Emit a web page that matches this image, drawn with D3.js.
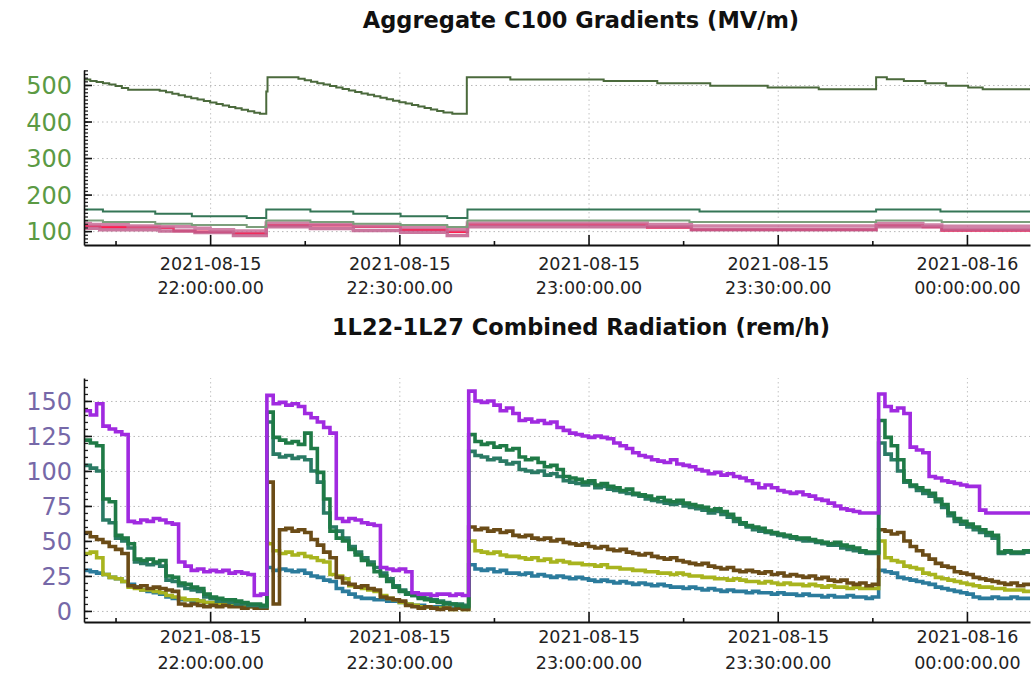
<!DOCTYPE html>
<html>
<head>
<meta charset="utf-8">
<script src="https://cdn.jsdelivr.net/npm/d3@7"></script>
<style>
  body { margin: 0; background: #fff; }
  svg { font-family: "DejaVu Sans", sans-serif; }
</style>
</head>
<body>
<svg id="drawing_region"></svg>
<script>
const startTime = new Date(2021, 7, 15, 21, 40);
const endTime = new Date(2021, 7, 16, 0, 10);

// ---- top chart: step series, [minutes after 21:40, MV/m]
const gradSum = [[0,515],[1,511],[2,508],[3,505],[4,501],[5,497],[6,492],[7,487],[12,484],[13,480],[14,476],[15,472],[16,468],[17,464],[18,460],[19,456],[20,452],[21,448],[22,444],[23,440],[24,436],[25,432],[26,428],[27,424],[27.9,421],[28.9,482],[29.1,521],[34,517],[35,513],[36,509],[37,505],[38,501],[39,497],[40,493],[41,489],[42,485],[43,481],[44,477],[45,473],[46,469],[47,465],[48,461],[49,457],[50,453],[51,449],[52,445],[53,441],[54,437],[55,433],[56,429],[57,425],[58.4,421],[60.7,521],[67.6,515],[82.4,511],[90.9,505],[99.3,498],[108.4,493],[116.5,488],[125.6,521],[127.3,516],[130,511],[133.4,505],[136.7,498],[140.2,493],[142.5,488],[150.5,488]];
const gradDarkGreen = [[0,159],[3,154],[11.3,147.5],[17.1,141],[25.8,135.6],[28.9,159],[35.9,154],[42.7,147.5],[50.2,141],[57.6,135.6],[60.8,159],[97.6,154],[125.6,159],[135.8,154],[150.5,154]];
const gradSage = [[0,129],[3,124.7],[11.3,120],[17.1,117],[25.8,111],[28.9,129],[35.9,124.7],[42.7,120],[50.2,117],[57.6,111],[60.8,129],[96,124.7],[125.6,129],[136,124.7],[150.5,124.7]];
const gradRed = [[0,114],[2.5,111],[12,109],[14.2,100],[17.6,98],[23.7,94],[28.9,116],[42.7,112],[50.2,104],[57.6,98],[60.8,118],[89.3,110],[96.3,104],[125.6,116],[133,111],[136,102],[150.5,102]];
const gradPinkHi = [[0,121],[1,118],[7,114],[12,112],[17.6,108],[20,104],[23.7,100],[28.9,122],[35.9,118],[42.7,114],[50.2,110],[57.6,104],[60.8,122],[89.3,118],[96.3,114],[125.6,121],[133,117],[136,113],[150.5,113]];
const gradPinkLo = [[0,108],[2.5,104],[12,100],[17.6,96],[23.7,88],[28.9,112],[35.9,107],[42.7,102],[50.2,97],[57.6,88],[60.8,112],[96.3,104],[125.6,112],[136,104],[150.5,104]];

// ---- bottom chart: one reading per minute from 21:40 (rem/h)
const radPurple = [143,140,148,132,130,128,126,64,63,65, 64,66,65,63,62,35,32,29,30,28, 29,28,29,27,28,27,26,11,12,154,
  148,149,147,148,146,141,138,135,131,127, 66,64,66,65,63,62,61,31,30,29, 30,28,13,12,12,11,12,12,11,12,
  11,157,150,149,150,147,143,145,141,136, 137,135,136,134,135,131,129,127,126,125, 124,125,124,123,120,118,116,113,111,110,
  108,107,106,108,105,104,103,101,100,98, 99,97,98,96,95,93,91,88,90,88, 86,85,84,85,83,82,80,79,77,75,
  73,72,71,70,70,70,155,146,143,145, 141,117,115,113,96,95,93,92,91,90, 89,89,72,70,70,70,70,70,70,70, 70];
const radGreen1 = [122,120,118,80,78,54,52,48,37,36, 37,35,36,25,24,20,19,17,16,12, 10,9,8,8,7,6,5,5,4,142,
  124,122,120,121,119,127,116,99,80,57, 52,50,44,40,36,33,28,25,21,17, 14,12,11,9,8,7,6,5,5,4,
  3,126,121,119,120,117,118,115,116,110, 108,109,106,103,104,101,96,95,94,92, 93,90,91,89,88,86,87,84,83,82,
  80,81,79,78,79,77,76,75,74,72, 73,71,69,66,63,61,60,59,57,56, 55,54,53,52,52,51,50,49,48,49,
  47,46,45,43,42,42,136,124,118,108, 93,90,88,86,84,80,76,70,66,64, 62,60,58,56,54,42,43,42,42,43, 42];
const radGreen2 = [104,102,100,65,63,52,50,45,35,34, 33,34,32,22,21,18,16,15,14,10, 9,7,7,6,5,5,4,4,3,135,
  112,110,111,109,110,108,100,92,70,60, 57,52,46,42,38,35,31,27,23,18, 15,13,11,10,9,8,7,6,5,5,
  4,114,111,110,108,109,107,105,106,101, 100,99,100,97,98,96,93,92,91,90, 91,88,89,87,86,85,84,83,82,80,
  79,78,77,76,77,75,74,73,72,70, 71,69,67,64,62,60,58,57,56,55, 54,53,52,51,50,50,49,48,47,47,
  45,44,43,42,41,41,120,112,108,100, 92,89,86,84,82,78,74,68,64,62, 60,58,56,54,52,41,42,41,41,42, 41];
const radBrown = [56,53,51,49,46,44,41,18,17,18, 16,17,16,15,14,5,4,5,4,3, 4,3,4,3,3,2,3,2,2,92,
  5,58,59,57,58,56,51,47,42,38, 24,20,19,17,18,16,15,10,9,8, 7,4,3,2,3,2,1,2,1,2,
  1,60,58,59,57,58,56,57,54,53, 54,52,51,52,50,51,49,48,47,48, 46,45,46,44,43,44,42,41,40,41,
  39,38,37,38,36,35,34,33,34,32, 31,30,31,29,28,29,28,27,28,26, 27,25,26,25,24,25,23,24,22,21,
  22,20,19,20,18,19,58,57,55,56, 50,46,43,40,37,34,32,31,28,27, 26,24,23,22,21,20,19,20,18,19, 19];
const radYellow = [41,42,38,26,24,23,21,17,16,15, 15,14,13,11,10,9,8,8,7,6, 6,5,5,4,4,3,3,3,2,48,
  43,41,42,40,41,39,38,36,35,26, 25,23,18,17,16,15,14,11,9,8, 6,5,4,3,3,2,2,2,1,2,
  1,50,43,42,41,42,40,39,39,38, 37,38,36,37,35,36,35,34,34,33, 33,32,33,31,31,30,30,29,29,28,
  28,27,27,26,27,26,25,25,24,24, 23,23,22,23,22,21,21,20,21,20, 19,20,19,19,18,19,18,17,18,17,
  17,16,17,16,16,16,50,38,36,35, 32,31,30,27,26,24,23,22,21,20, 19,18,17,17,16,16,15,15,15,14, 15];
const radTeal = [29,28,27,26,24,23,21,19,17,15, 14,13,12,10,9,8,8,7,7,6, 6,5,5,5,4,4,4,3,3,31,
  29,30,29,28,29,27,25,24,22,21, 16,14,12,10,9,9,8,8,7,7, 6,5,4,4,3,3,3,2,2,2,
  2,33,30,29,30,28,29,27,27,26, 27,25,26,25,24,25,24,23,24,23, 22,21,22,21,20,21,20,19,20,19,
  18,19,18,17,17,16,17,16,15,16, 15,14,15,14,14,13,14,13,13,12, 13,12,12,11,12,11,11,10,11,10,
  10,11,10,10,9,10,29,28,27,24, 23,22,21,20,19,17,16,15,14,13, 12,10,9,9,10,9,9,10,9,9, 10];

const gradTicks = [100, 200, 300, 400, 500];
const radTicks = [0, 25, 50, 75, 100, 125, 150];

const atMinute = m => new Date(startTime.getTime() + m * 60000);
const fromSteps = arr => arr.map(d => ({ date: atMinute(d[0]), value: d[1] }));
const fromMinutes = arr => arr.map((v, i) => ({ date: atMinute(i), value: v }));

const svg = d3.select('#drawing_region')
    .attr('width', 1036)
    .attr('height', 674);

class StripChart {
    constructor( config, series ) {
        this.config = config;
        this.series = series;
        this.init();
    }

    init() {
        let self = this;
        let c = self.config;

        self.g = svg.append('g');

        self.x = d3.scaleTime()
            .domain([startTime, endTime])
            .range([84, 1030]);

        self.y = d3.scaleLinear()
            .domain(c.yDomain)
            .range([c.bottom, c.top]);

        self.clipId = 'clip_' + c.name;
        svg.append('clipPath')
            .attr('id', self.clipId)
            .append('rect')
            .attr('x', 84).attr('y', c.top)
            .attr('width', 1030 - 84).attr('height', c.bottom - c.top);

        self.line = d3.line()
            .x(d => self.x(d.date))
            .y(d => self.y(d.value))
            .curve(d3.curveStepAfter);
    }

    render() {
        let self = this;
        let c = self.config;
        let x = self.x, y = self.y;

        // grid
        self.g.append('g')
            .attr('transform', `translate(84,0)`)
            .call(d3.axisLeft(y).tickValues(c.yTicks).tickSize(-(1030 - 84)).tickFormat(''))
            .call(g => g.select('.domain').remove())
            .selectAll('line')
            .attr('stroke', '#b8b8b8')
            .attr('stroke-dasharray', '1.5,3');

        self.g.append('g')
            .attr('transform', `translate(0,${c.bottom})`)
            .call(d3.axisBottom(x).ticks(d3.timeMinute.every(30)).tickSize(-(c.bottom - c.top)).tickFormat(''))
            .call(g => g.select('.domain').remove())
            .selectAll('line')
            .attr('stroke', '#c4c4c4')
            .attr('stroke-dasharray', '1.5,3');

        // data
        let plot = self.g.append('g').attr('clip-path', `url(#${self.clipId})`);
        self.series.forEach(s => {
            plot.append('path')
                .datum(s.data)
                .attr('fill', 'none')
                .attr('stroke', s.color)
                .attr('stroke-width', s.width)
                .attr('stroke-opacity', s.opacity || 1)
                .attr('stroke-linejoin', 'miter')
                .attr('d', self.line);
        });

        // y axis
        self.g.append('g')
            .attr('transform', `translate(84,0)`)
            .call(d3.axisLeft(y).tickValues(d3.range(c.minorStart, c.yDomain[1], c.minorStep))
                .tickSizeInner(-4).tickSizeOuter(0).tickFormat(''))
            .call(g => g.select('.domain').remove())
            .selectAll('line').attr('stroke', '#222').attr('stroke-width', 1.3);

        let yAxis = self.g.append('g')
            .attr('transform', `translate(84,0)`)
            .call(d3.axisLeft(y).tickValues(c.yTicks).tickSizeInner(-8).tickSizeOuter(0).tickPadding(12))
            .attr('font-family', null).attr('font-size', null);
        yAxis.select('.domain').attr('stroke', '#111').attr('stroke-width', 1.6);
        yAxis.selectAll('line').attr('stroke', '#111').attr('stroke-width', 1.6);
        yAxis.selectAll('text')
            .attr('fill', c.labelColor)
            .style('font-size', '24px')
            .attr('dy', '0.36em');

        // x axis
        self.g.append('g')
            .attr('transform', `translate(0,${c.bottom})`)
            .call(d3.axisBottom(x)
                .tickValues(x.ticks(d3.timeMinute.every(15)).filter(d => d.getMinutes() % 30 !== 0))
                .tickSizeInner(-4).tickSizeOuter(0).tickFormat(''))
            .call(g => g.select('.domain').remove())
            .selectAll('line').attr('stroke', '#111').attr('stroke-width', 1.6);

        let fmtDay = d3.timeFormat('%Y-%m-%d');
        let fmtClock = d3.timeFormat('%H:%M:%S.00');
        let xAxis = self.g.append('g')
            .attr('transform', `translate(0,${c.bottom})`)
            .call(d3.axisBottom(x).ticks(d3.timeMinute.every(30)).tickSizeInner(-10).tickSizeOuter(0))
            .attr('font-family', null).attr('font-size', null);
        xAxis.select('.domain').attr('stroke', '#111').attr('stroke-width', 2);
        xAxis.selectAll('line').attr('stroke', '#111').attr('stroke-width', 1.6);
        xAxis.selectAll('text')
            .attr('fill', '#222')
            .attr('y', null).attr('dy', null)
            .style('font-size', '17.5px')
            .each(function(d) {
                let t = d3.select(this);
                t.text(null);
                t.append('tspan').attr('x', 0).attr('y', c.labelDy[0]).text(fmtDay(d));
                t.append('tspan').attr('x', 0).attr('y', c.labelDy[1]).text(fmtClock(d));
            });

        // title
        self.g.append('text')
            .attr('x', 581)
            .attr('y', c.titleY)
            .attr('text-anchor', 'middle')
            .attr('fill', '#111')
            .style('font-size', '22.5px')
            .style('font-weight', 'bold')
            .text(c.title);
    }
}

const gradChart = new StripChart({
    name: 'grad',
    title: 'Aggregate C100 Gradients (MV/m)',
    titleY: 28,
    top: 70, bottom: 245,
    yDomain: [62, 541],
    yTicks: gradTicks,
    minorStart: 70, minorStep: 10,
    labelColor: '#5b9a44',
    labelDy: [24.5, 48.5]
}, [
    { data: fromSteps(gradRed), color: '#ff1f4f', width: 2.5 },
    { data: fromSteps(gradPinkLo), color: '#bf5e8c', width: 3.5, opacity: 0.85 },
    { data: fromSteps(gradPinkHi), color: '#c86d98', width: 3.5, opacity: 0.85 },
    { data: fromSteps(gradSage), color: '#7c9f7c', width: 2 },
    { data: fromSteps(gradDarkGreen), color: '#357656', width: 2 },
    { data: fromSteps(gradSum), color: '#4b6a3c', width: 2 }
]);
gradChart.render();

const radChart = new StripChart({
    name: 'rad',
    title: '1L22-1L27 Combined Radiation (rem/h)',
    titleY: 335,
    top: 378, bottom: 622,
    yDomain: [-7.9, 166.4],
    yTicks: radTicks,
    minorStart: -5, minorStep: 5,
    labelColor: '#7668a8',
    labelDy: [20.5, 46.5]
}, [
    { data: fromMinutes(radTeal), color: '#2b7b9c', width: 3.6 },
    { data: fromMinutes(radYellow), color: '#a8b41e', width: 3.6 },
    { data: fromMinutes(radBrown), color: '#6b4c17', width: 3.6 },
    { data: fromMinutes(radGreen2), color: '#2a7a64', width: 3.6 },
    { data: fromMinutes(radGreen1), color: '#1f7a46', width: 3.6 },
    { data: fromMinutes(radPurple), color: '#a02ae0', width: 3.6 }
]);
radChart.render();
</script>
</body>
</html>
